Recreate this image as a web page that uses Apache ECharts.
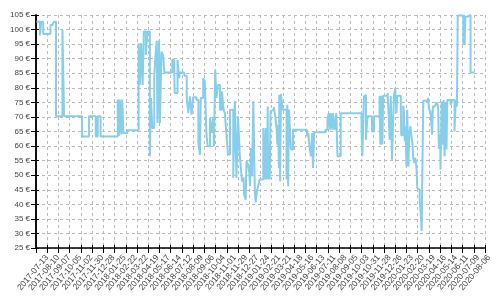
<!DOCTYPE html>
<html><head><meta charset="utf-8">
<script src="https://cdn.jsdelivr.net/npm/echarts@6/dist/echarts.min.js"></script>
<style>html,body{margin:0;padding:0;background:#fff}#c{width:500px;height:300px}</style>
</head><body><div id="c"></div>
<script>
// Data
const startDate = '2017-07-13';
const tickIntervalDays = 28;
const axisEndDay = 1120;
const yMin = 25, yMax = 105, yStep = 5;

// days since startDate
const dayOffsets = [
  1,10,13,18,36,41,45,50,66,70,115,132,149,154,161,204,207,209,213,215,218,228,
  256,259,262,266,269,274,278,284,287,290,295,298,301,303,307,309,313,317,320,
  340,345,346,353,357,359,370,376,380,384,388,392,400,405,409,411,417,421,425,
  428,434,438,442,444,447,450,454,459,464,468,471,475,479,484,492,496,500,504,
  508,511,514,518,519,523,525,529,532,534,536,539,542,546,548,551,554,558,567,
  571,573,576,578,579,581,583,585,589,593,597,600,602,604,606,607,609,611,615,
  625,627,629,631,633,636,641,676,679,683,686,689,691,694,722,727,730,733,735,
  739,741,745,749,752,760,812,814,818,820,823,827,838,843,857,859,862,864,866,
  877,880,882,885,888,891,893,896,899,901,910,911,916,918,920,922,924,926,929,
  931,934,936,939,941,944,946,949,951,955,957,960,962,966,976,978,980,984,988,
  990,995,999,1003,1005,1008,1009,1012,1014,1017,1019,1022,1024,1026,1034,1038,
  1044,1047,1050,1052,1066,1068,1069,1071,1076,1084,1094
];
// price in euro at each change
const prices = [
  102.7,98,102.7,98.5,101.6,102.1,102.7,70.2,99.9,70.2,63.3,70.2,63.3,70.2,63.3,76,63.5,76,64,76,64.5,65.4,
  95.3,81,95.3,81,99.3,91.3,99.3,56.5,76.5,66.2,84.4,90.7,96.2,67.9,96.2,67.9,92.4,91.3,85.3,
  89.6,84.4,78.2,89.6,83.3,85.3,84.1,76.5,71.3,77.1,70.8,76.8,75.9,61,57,76.5,83.3,82.2,64.5,
  59.9,69.6,64.5,70,59.9,86.2,76.5,81,72.5,78.7,72.5,71.3,63.9,57.1,72.5,49.1,75.4,49.1,70.2,
  57.6,52.5,47.9,49.1,43.4,41.6,54.8,53.6,50.8,46.2,59.3,49.6,75.4,43.9,40.7,44.5,46.2,48.5,66.2,
  48.5,66.2,48.5,73.6,48.5,60.5,48.5,71.9,72.5,73.4,70.2,66.2,60.5,67.3,52.5,77.6,47.9,77.9,72.5,
  48.5,74.2,46.2,72.5,66.8,58.8,65.6,63.3,64.5,58.8,56.5,64.5,52.5,64.7,65.6,69,71.3,65.6,71.3,
  65.6,71.3,65.6,71.3,56.5,71.3,66.2,56.5,77,77.6,62.2,70.2,65,70.2,77.3,60.5,77.3,60.5,77.3,
  78.2,70.2,62.2,77.3,55.3,69,77.3,79.9,71.3,77.3,73.6,63.7,73.8,71.3,61.6,66.8,53,72.5,53,
  63.9,66.8,63.7,61,55.9,54.2,55.9,53,45.6,45,42.2,35.9,30.8,75.6,74.8,76.5,73,71.9,63.9,
  73.6,74.2,75,73.6,59,63.9,51.9,75.3,60.5,75.8,56.5,74.8,58.8,75.8,74.2,75.8,
  65,75.8,73.6,104.8,94.7,104.8,94.7,104.4,105,85.3,85.3
];

const startMs = Date.parse(startDate + 'T00:00:00Z');
function dayLabel(d) {
  if (d < 0 || d > axisEndDay) return '';
  return new Date(startMs + Math.round(d) * 86400000).toISOString().slice(0, 10);
}

const gridLeft = 36, gridRight = 15, gridTop = 15, gridBottom = 52;
const plotWidth = 500 - gridLeft - gridRight;
// in the reference each date label sits one tick to the right of its tick
const tickPx = plotWidth * tickIntervalDays / axisEndDay;

const chart = echarts.init(document.getElementById('c'), null, { renderer: 'canvas' });
const gridLine = { show: true, lineStyle: { color: '#bbb', type: [3, 3], width: 1 } };
const blackLine = { show: true, lineStyle: { color: '#000', width: 1.5 } };
chart.setOption({
  animation: false,
  grid: [
    { left: gridLeft, right: gridRight, top: gridTop, bottom: gridBottom, containLabel: false },
    // label-only grid: one tick wider on each side, shifted one tick right
    { left: gridLeft, right: gridRight - 2 * tickPx, top: gridTop, bottom: gridBottom, containLabel: false }
  ],
  xAxis: [{
    type: 'value', gridIndex: 0, position: 'bottom', min: 0, max: axisEndDay, interval: tickIntervalDays,
    axisLine: blackLine,
    axisTick: { show: true, length: 5, lineStyle: { color: '#000' } },
    splitLine: gridLine,
    axisLabel: { show: false }
  }, {
    type: 'value', gridIndex: 1, min: -tickIntervalDays, max: axisEndDay + tickIntervalDays,
    interval: tickIntervalDays,
    axisLine: { show: false }, axisTick: { show: false }, splitLine: { show: false },
    axisLabel: {
      rotate: 50, fontSize: 8.5, color: '#444',
      fontFamily: 'Liberation Sans, Arial, sans-serif',
      margin: 8, hideOverlap: false, showMinLabel: false, showMaxLabel: false,
      formatter: dayLabel
    }
  }, {
    // inner halves of the crossing ticks
    type: 'value', gridIndex: 0, position: 'bottom', min: 0, max: axisEndDay, interval: tickIntervalDays,
    axisLine: { show: false },
    axisTick: { show: true, inside: true, length: 3, lineStyle: { color: '#000' } },
    splitLine: { show: false }, axisLabel: { show: false }
  }],
  yAxis: [{
    type: 'value', gridIndex: 0, position: 'left', min: yMin, max: yMax, interval: yStep,
    axisLine: blackLine,
    axisTick: { show: true, length: 5, lineStyle: { color: '#000' } },
    splitLine: gridLine,
    axisLabel: {
      fontSize: 8, color: '#444', fontFamily: 'Liberation Sans, Arial, sans-serif',
      margin: 6, formatter: '{value} €'
    }
  }, {
    type: 'value', gridIndex: 0, min: yMin, max: yMax, interval: yStep, position: 'right',
    axisLine: blackLine,
    axisTick: { show: false }, axisLabel: { show: false }, splitLine: { show: false }
  }, {
    type: 'value', gridIndex: 1, min: yMin, max: yMax, show: false
  }, {
    type: 'value', gridIndex: 0, position: 'left', min: yMin, max: yMax, interval: yStep,
    axisLine: { show: false },
    axisTick: { show: true, inside: true, length: 3, lineStyle: { color: '#000' } },
    splitLine: { show: false }, axisLabel: { show: false }
  }],
  series: [{
    type: 'line', xAxisIndex: 0, yAxisIndex: 0, step: 'end', showSymbol: false, symbol: 'none',
    data: dayOffsets.map((d, i) => [d, prices[i]]),
    lineStyle: { color: '#87CEEB', width: 2 },
    itemStyle: { color: '#87CEEB' },
    clip: true
  }]
});
</script>
</body></html>
